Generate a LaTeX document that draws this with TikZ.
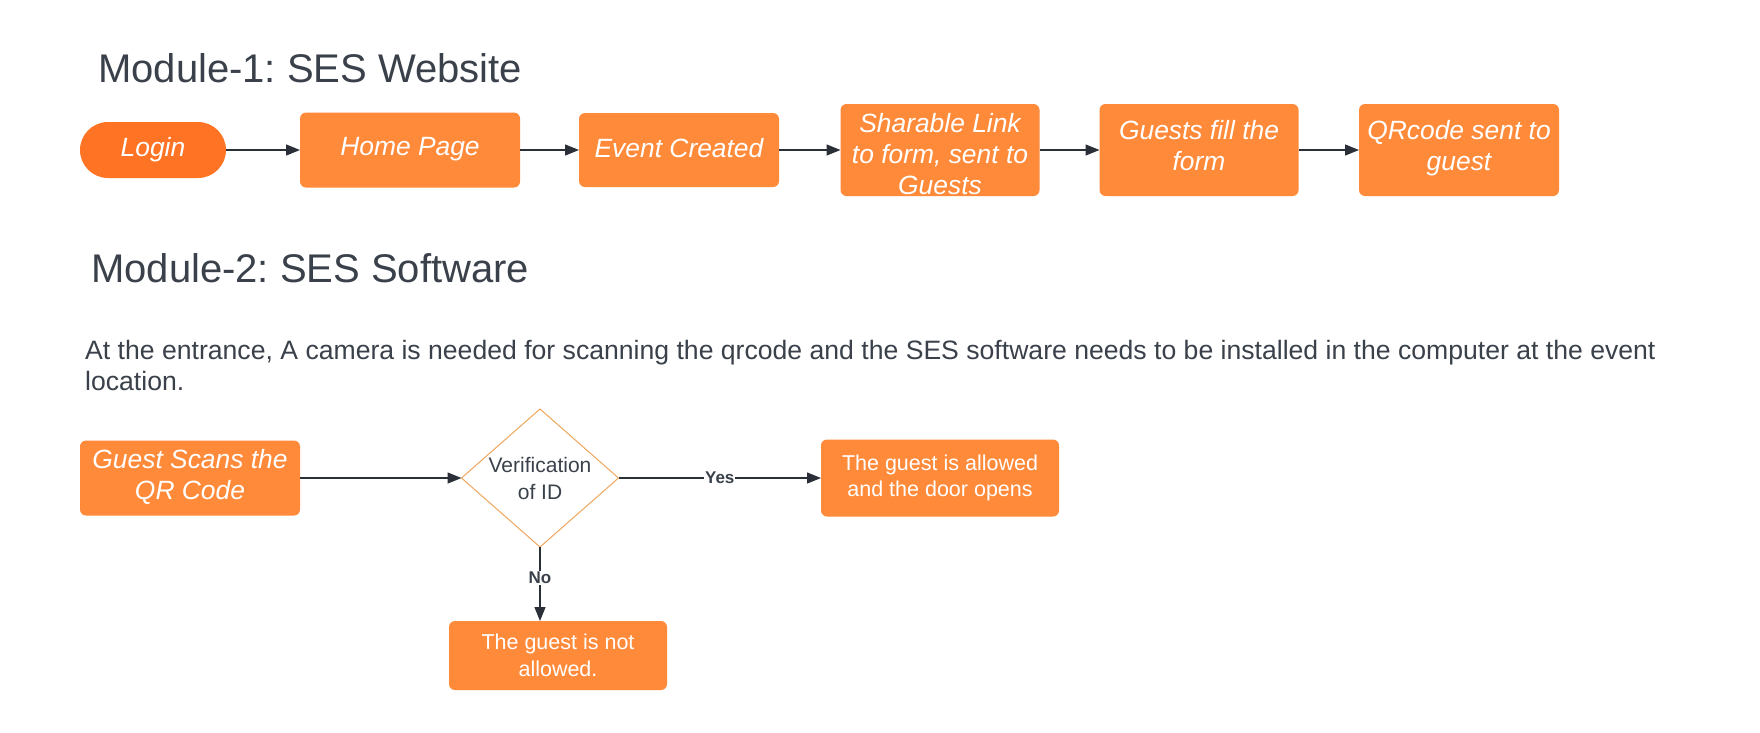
\documentclass[tikz,border=0pt]{standalone}
\usepackage{fontspec}
\setmainfont{Liberation Sans}
\usetikzlibrary{shapes.geometric,arrows.meta}
\definecolor{boxorange}{HTML}{FF8A3A}
\definecolor{loginorange}{HTML}{FE7424}
\definecolor{darktext}{HTML}{3A414A}
\definecolor{arrowc}{HTML}{2B3038}
\definecolor{diaborder}{HTML}{EFA65E}
\frenchspacing
\begin{document}
\begin{tikzpicture}[x=1pt,y=-1pt,
  box/.style={rectangle, rounded corners=6pt, fill=boxorange, text=white,
    inner sep=0pt, outer sep=0pt, align=center,
    font=\fontsize{26.4}{31}\selectfont\itshape},
  plainbox/.style={rectangle, rounded corners=6pt, fill=boxorange, text=white,
    inner sep=0pt, outer sep=0pt, align=center,
    font=\fontsize{21.5}{26.5}\selectfont},
  loginbox/.style={rectangle, rounded corners=28pt, fill=loginorange, text=white,
    inner sep=0pt, outer sep=0pt, font=\fontsize{26.4}{31}\selectfont\itshape},
  decision/.style={diamond, aspect=1.14, draw=diaborder, line width=1pt, fill=white,
    text=darktext, inner sep=0pt, outer sep=0pt, align=center,
    font=\fontsize{21}{27}\selectfont},
  title/.style={anchor=base west, inner sep=0pt, text=darktext,
    font=\fontsize{40}{48}\selectfont},
  para/.style={anchor=base west, inner sep=0pt, text=darktext, align=left,
    font=\fontsize{26.6}{31}\selectfont},
  conn/.style={draw=arrowc, line width=1.3pt,
    -{Triangle[length=14pt,width=11pt]}},
  lbl/.style={fill=white, inner sep=1pt, text=darktext,
    font=\fontsize{17}{20}\selectfont\bfseries}
]
\useasboundingbox[fill=white] (0,0) rectangle (1760,732);

% Module 1
\node[title] (t1) at (98,82) {Module-1: SES Website};
\node[loginbox, minimum width=146, minimum height=56] (login) at (153,150) {Login};
\node[box, minimum width=220, minimum height=75, text height=19.3pt, text depth=7.7pt] (home) at (410,150) {Home Page};
\node[box, minimum width=200, minimum height=74, text height=19.3pt, text depth=4.4pt] (event) at (679,150) {Event Created};
\node[box, minimum width=199, minimum height=92, text height=89.8pt, text depth=0pt] (link) at (940,150) {Sharable Link\\to form, sent to\\Guests};
\node[box, minimum width=199, minimum height=92, text height=50.3pt, text depth=8.9pt] (fill) at (1199,150) {Guests fill the\\form};
\node[box, minimum width=200, minimum height=92, text height=50.3pt, text depth=8.9pt] (qr) at (1459,150) {QRcode sent to\\guest};

\draw[conn] (login) -- (home);
\draw[conn] (home) -- (event);
\draw[conn] (event) -- (link);
\draw[conn] (link) -- (fill);
\draw[conn] (fill) -- (qr);

% Module 2
\node[title] (t2) at (91,282) {Module-2: SES Software};
\node[para] (p) at (85,390) {At the entrance, A camera is needed for scanning the qrcode and the SES software needs to be installed in the computer at the event\\location.};

\node[box, minimum width=220, minimum height=75, text height=50.3pt, text depth=7.1pt] (scan) at (190,478) {Guest Scans the\\QR Code};
\node[decision, minimum width=157, minimum height=138] (dia) at (540,478) {Verification\\of ID};
\node[plainbox, minimum width=238, minimum height=77] (yes) at (940,478) {The guest is allowed\\and the door opens};
\node[plainbox, minimum width=218, minimum height=69] (no) at (558,655.5) {The guest is not\\allowed.};

\draw[conn] (scan) -- (dia);
\draw[conn] (dia.east) -- node[lbl] {Yes} (yes.west);
\draw[conn] (dia.south) -- node[lbl, pos=0.42] {No} (dia.south |- no.north);
\end{tikzpicture}
\end{document}
